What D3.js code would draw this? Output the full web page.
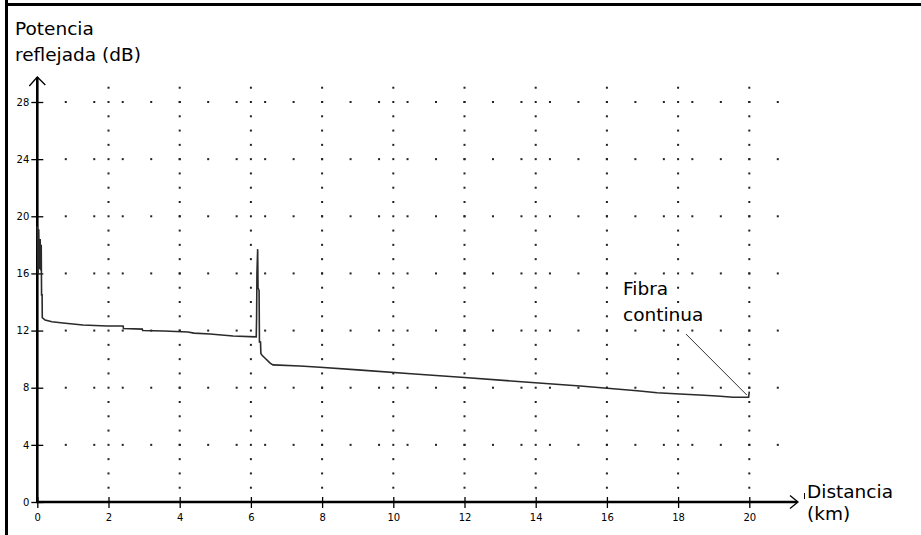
<!DOCTYPE html>
<html><head><meta charset="utf-8">
<script src="https://cdn.jsdelivr.net/npm/d3@7"></script>
<style>body{margin:0;background:#fff}svg{display:block}</style>
</head><body><svg id="c" width="921" height="535"></svg>
<script>
// ---- data ----
const distanceKm = [0.00,0.02,0.04,0.06,0.08,0.10,0.11,0.12,0.135,0.14,0.22,0.41,0.72,1.00,1.28,1.96,2.41,2.42,2.95,2.96,3.56,4.23,4.4,4.85,5.5,6.15,6.16,6.17,6.19,6.20,6.23,6.24,6.27,6.28,6.32,6.40,6.54,6.62,7.38,7.94,9.0,10.5,12.0,13.5,15.25,16.85,17.41,18.05,18.6,19.09,19.55,19.98,20.0];
const powerDb    = [19.3,16.0,19.1,16.3,18.4,16.2,18.0,14.5,14.5,12.9,12.74,12.62,12.53,12.46,12.39,12.32,12.32,12.15,12.1,12.0,11.97,11.9,11.82,11.76,11.62,11.56,12.9,16.0,17.7,15.0,14.8,11.2,11.2,10.4,10.25,10.06,9.72,9.60,9.52,9.43,9.25,8.98,8.72,8.44,8.12,7.79,7.65,7.56,7.49,7.42,7.33,7.33,7.72];
const xTickValues = [0,2,4,6,8,10,12,14,16,18,20];
const yTickValues = [0,4,8,12,16,20,24,28];
const xGridValues = [2,4,6,8,10,12,14,16,18,20];
const yGridValues = [4,8,12,16,20,24,28];
const xDotStepKm = 0.8;
const yDotStepDb = 1;
const yAxisTitle = ["Potencia","reflejada (dB)"];
const xAxisTitle = ["Distancia","(km)"];
const annotationText = ["Fibra","continua"];
const annotationFrom = [18.22, 11.76];
const annotationTo = [19.93, 7.49];

// ---- scales ----
const svg = d3.select("#c");
const x = d3.scaleLinear().domain([0,20]).range([37.3,749.3]);
const y = d3.scaleLinear().domain([0,28]).range([502,102]);
const font = "'DejaVu Sans', sans-serif";

// frame
svg.append("rect").attr("x",5).attr("y",0).attr("width",3).attr("height",535).attr("fill","#000");
svg.append("rect").attr("x",5).attr("y",3).attr("width",916).attr("height",3).attr("fill","#000");

// dotted grid
const dots = svg.append("g").attr("fill","#222");
xGridValues.forEach(v => {
  d3.range(yDotStepDb, 29.5, yDotStepDb).forEach(d => {
    dots.append("rect").attr("x",x(v)-1).attr("y",y(d)-1).attr("width",2).attr("height",2);
  });
});
yGridValues.forEach(v => {
  d3.range(xDotStepKm, 20.85, xDotStepKm).forEach(k => {
    dots.append("rect").attr("x",x(k)-1).attr("y",y(v)-1).attr("width",2).attr("height",2);
  });
});

// axes
const yAx = svg.append("g").attr("transform",`translate(${x(0)},0)`)
  .call(d3.axisLeft(y).tickValues(yTickValues).tickSize(6).tickPadding(8));
yAx.select(".domain").remove();
yAx.selectAll(".tick line").attr("x1",-6).attr("x2",6).attr("stroke","#000").attr("stroke-width",1.3);
yAx.selectAll(".tick text").attr("font-family",font).attr("font-size",10).attr("fill","#000").attr("x",-8);

const xAx = svg.append("g").attr("transform",`translate(0,${y(0)})`)
  .call(d3.axisBottom(x).tickValues(xTickValues).tickSize(6));
xAx.select(".domain").remove();
xAx.selectAll(".tick line").attr("y1",-5).attr("y2",6).attr("stroke","#000").attr("stroke-width",1.3);
xAx.selectAll(".tick text").attr("font-family",font).attr("font-size",10).attr("fill","#000").attr("y",12);

// axis lines with arrows
svg.append("line").attr("x1",x(0)).attr("x2",x(0)).attr("y1",y(0)+1).attr("y2",77).attr("stroke","#000").attr("stroke-width",2.6);
svg.append("path").attr("d",`M${x(0)-8},86 L${x(0)},77 L${x(0)+8},85`).attr("fill","none").attr("stroke","#000").attr("stroke-width",1.3);
svg.append("line").attr("x1",x(0)-1).attr("x2",797).attr("y1",y(0)).attr("y2",y(0)).attr("stroke","#000").attr("stroke-width",2.6);
svg.append("path").attr("d",`M790,495.5 L798,${y(0)} L790,508.5`).attr("fill","none").attr("stroke","#000").attr("stroke-width",1.3);
svg.append("line").attr("x1",804.5).attr("x2",804.5).attr("y1",493).attr("y2",499).attr("stroke","#000").attr("stroke-width",1);

// trace
const line = d3.line().x((d,i)=>x(distanceKm[i])).y((d,i)=>y(powerDb[i]));
svg.append("path").datum(distanceKm).attr("d",line).attr("fill","none").attr("stroke","#2a2a2a").attr("stroke-width",1.6).attr("stroke-linejoin","miter");

// annotation
svg.append("line").attr("x1",x(annotationFrom[0])).attr("y1",y(annotationFrom[1]))
  .attr("x2",x(annotationTo[0])).attr("y2",y(annotationTo[1])).attr("stroke","#333").attr("stroke-width",1);

function textBlock(lines, tx, ty, dy){
  const t = svg.append("text").attr("font-family",font).attr("font-size",18.5).attr("fill","#000");
  lines.forEach((s,i)=>t.append("tspan").attr("x",tx).attr("y",ty+i*dy).text(s));
}
textBlock(yAxisTitle, 15, 35, 26);
textBlock(annotationText, 623, 295, 26);
textBlock(xAxisTitle, 807, 498, 22);
</script></body></html>
